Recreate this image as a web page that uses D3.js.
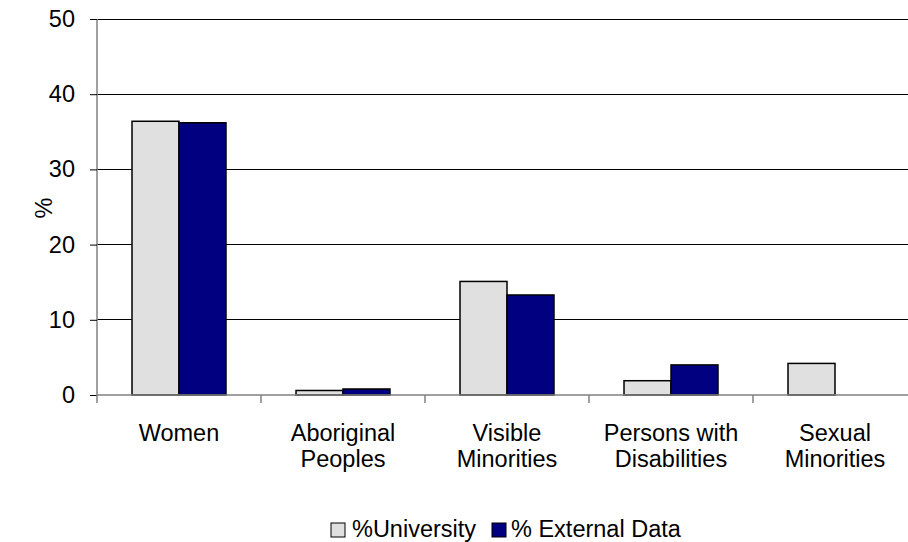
<!DOCTYPE html>
<html>
<head>
<meta charset="utf-8">
<script src="https://cdn.jsdelivr.net/npm/d3@7"></script>
<style>
  body { margin: 0; background: #fff; }
  text { font-family: "Liberation Sans", Arial, sans-serif; }
</style>
</head>
<body>
<div id="chart"></div>
<script>
const categories = [
  ['Women'],
  ['Aboriginal', 'Peoples'],
  ['Visible', 'Minorities'],
  ['Persons with', 'Disabilities'],
  ['Sexual', 'Minorities']
]
const seriesNames = ['%University', '% External Data']
const university = [36.4, 0.6, 15.1, 1.9, 4.2]
const external = [36.2, 0.8, 13.3, 4.0, 0]
const yTicks = [0, 10, 20, 30, 40, 50]

const colors = ['#e0e0e0', '#000080']
const fontSize = '23.5px'

const margin = { top: 19, left: 97, right: -9, bottom: 147 }
const width = 908 - margin.left - margin.right
const height = 542 - margin.top - margin.bottom

const svg = d3
  .select('#chart')
  .append('svg')
  .attr('width', 908)
  .attr('height', 542)
  .append('g')
  .attr('transform', `translate(${margin.left}, ${margin.top})`)

const x = d3.scaleBand().domain(d3.range(categories.length)).range([0, width])
const inner = d3.scaleBand().domain([0, 1]).range([0, x.bandwidth()]).paddingInner(0).paddingOuter(0.745)
const y = d3.scaleLinear().domain([0, 50]).range([height, 0])

// gridlines
svg
  .selectAll('.grid')
  .data(yTicks.filter(d => d > 0))
  .enter()
  .append('line')
  .attr('x1', 0)
  .attr('x2', width)
  .attr('y1', d => y(d))
  .attr('y2', d => y(d))
  .attr('stroke', '#000')
  .attr('stroke-width', 1)
  .attr('shape-rendering', 'crispEdges')

// bars
const rows = categories.map((c, i) => [university[i], external[i]])
const groups = svg
  .selectAll('.group')
  .data(rows)
  .enter()
  .append('g')
  .attr('transform', (d, i) => `translate(${x(i)},0)`)

groups
  .selectAll('rect')
  .data(d => d.map((v, j) => ({ v, j })))
  .enter()
  .filter(d => d.v > 0)
  .append('rect')
  .attr('x', d => inner(d.j))
  .attr('width', inner.bandwidth())
  .attr('y', d => y(d.v))
  .attr('height', d => y(0) - y(d.v))
  .attr('fill', d => colors[d.j])
  .attr('stroke', '#000')
  .attr('stroke-width', 1.5)

// y axis
const yAxis = svg.append('g').call(d3.axisLeft(y).tickValues(yTicks).tickSize(7).tickPadding(15))
yAxis.select('.domain').attr('stroke', '#808080').attr('stroke-width', 1.5).attr('d', `M0,${height}V0`)
yAxis.selectAll('text').style('font-size', fontSize).attr('fill', '#000')

// x axis
const xTicks = d3.range(categories.length + 1).map(i => i * x.step())
const xAxis = svg.append('g').attr('transform', `translate(0,${height})`)
xAxis
  .append('line')
  .attr('x1', 0)
  .attr('x2', width)
  .attr('stroke', '#808080')
  .attr('stroke-width', 1.5)
xAxis
  .selectAll('.tick')
  .data(xTicks)
  .enter()
  .append('line')
  .attr('x1', d => d)
  .attr('x2', d => d)
  .attr('y1', 0)
  .attr('y2', 8)
  .attr('stroke', '#808080')
  .attr('stroke-width', 1.5)

xAxis
  .selectAll('.label')
  .data(categories)
  .enter()
  .append('text')
  .attr('text-anchor', 'middle')
  .style('font-size', fontSize)
  .attr('x', (d, i) => x(i) + x.bandwidth() / 2)
  .attr('y', 46)
  .each(function(d) {
    d3.select(this)
      .selectAll('tspan')
      .data(d)
      .enter()
      .append('tspan')
      .attr('x', d3.select(this).attr('x'))
      .attr('dy', (t, k) => (k === 0 ? 0 : 26))
      .text(t => t)
  })

// y label
svg
  .append('text')
  .attr('transform', `translate(${52 - margin.left},${208 - margin.top}) rotate(-90)`)
  .attr('text-anchor', 'middle')
  .style('font-size', fontSize)
  .text('%')

// legend
const legend = svg.append('g').attr('transform', `translate(${331 - margin.left},${523 - margin.top})`)
const legendX = [0, 161]
seriesNames.forEach((name, j) => {
  legend
    .append('rect')
    .attr('x', legendX[j])
    .attr('y', 0)
    .attr('width', 14)
    .attr('height', 14)
    .attr('fill', colors[j])
    .attr('stroke', '#000')
    .attr('stroke-width', 1)
  legend
    .append('text')
    .attr('x', legendX[j] + (j === 0 ? 21 : 19))
    .attr('y', 14)
    .style('font-size', fontSize)
    .text(name)
})
</script>
</body>
</html>
